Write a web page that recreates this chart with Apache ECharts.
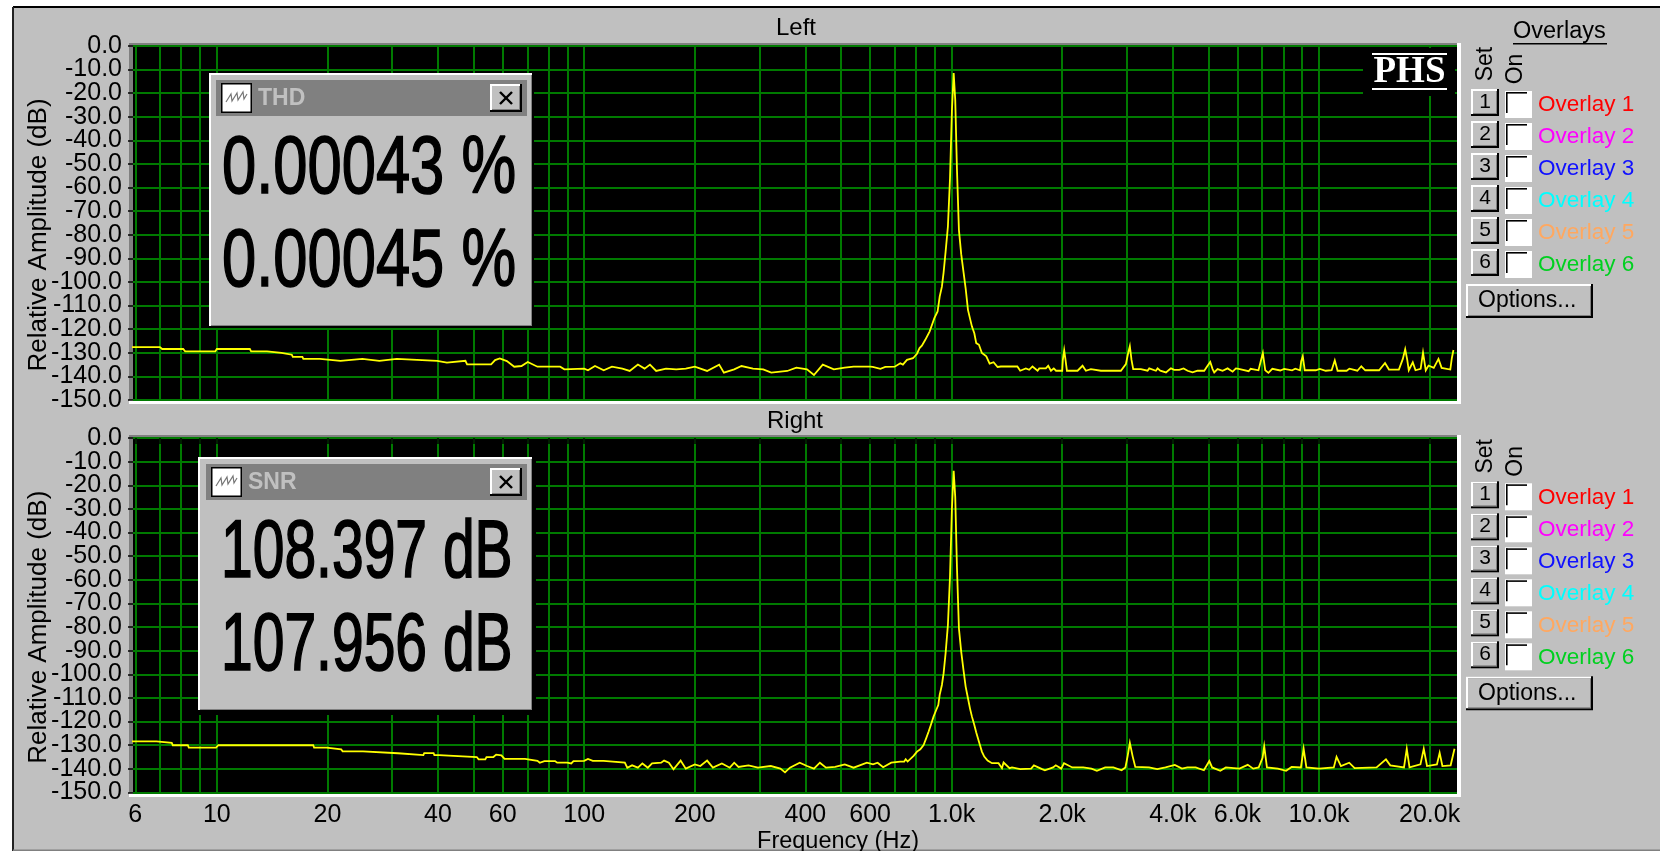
<!DOCTYPE html>
<html><head><meta charset="utf-8">
<script src="https://cdn.jsdelivr.net/npm/echarts@6/dist/echarts.min.js"></script>
<style>html,body{margin:0;padding:0;background:#fff}#c{width:1660px;height:851px}</style>
</head><body><div id="c"></div>
<script>
// ---------- axis values ----------
const dbTicksMin = -150, dbTicksMax = 0, dbStep = 10;
const dbLabelsA = [-150,-130,-110,-90,-70,-50,-30,-10];
const dbLabelsB = [-140,-120,-100,-80,-60,-40,-20,0];
const freqGrid = [6,7,8,9,10,20,30,40,50,60,70,80,90,100,200,300,400,500,600,700,800,900,1000,2000,3000,4000,5000,6000,7000,8000,9000,10000,20000];
const freqLabelled = [6,10,20,40,60,100,200,400,600,1000,2000,4000,6000,10000,20000];
const freqLabelText = ['6','10','20','40','60','100','200','400','600','1.0k','2.0k','4.0k','6.0k','10.0k','20.0k'];
// ---------- Left channel: [Hz, dB] ----------
const leftLow = [[5.8,-127.6],[7.0,-127.6],[7.1,-128.4],[8.1,-128.4],[8.2,-129.4],[9.9,-129.4],[10,-128.4],[12.3,-128.4],[12.4,-129.4],[13.7,-129.4],[13.8,-130],[15,-130],[15.1,-130.8],[16,-130.8],[16.1,-131.7],[17.1,-131.7],[17.2,-132.6],[19.1,-132.6],[19.2,-133.4],[21.7,-133.4],[21.9,-132.6],[24.9,-132.6],[25.1,-133.4],[27.7,-133.4],[27.9,-132.6],[30.9,-132.6],[31.2,-133.4],[39.8,-133.4],[40,-134.2],[42.3,-134.2],[42.5,-133.4],[47.5,-133.4],[48,-134.9],[55.8,-134.9],[57.2,-133.1],[58.9,-132.4],[61.6,-133.5],[64.5,-135.9],[67.5,-135.6],[70.2,-133.9],[74.6,-135.9],[86,-135.9],[88.3,-137],[100,-136.7]];
const leftMid = [[102.4,-137.4],[107,-135.6],[113,-137.4],[119,-135.9],[127,-136.7],[133,-137.7],[140,-135],[146,-136.7],[151,-135],[157,-137.7],[167,-136.7],[178,-137],[189,-136.7],[200,-135.9],[216,-137.7],[233,-135],[240,-138.4],[256,-137],[268,-135.6],[288,-136.7],[307,-137],[323,-138.4],[357,-137.7],[378,-136.3],[404,-137],[422,-139.4],[446,-135],[478,-137],[512,-136.3],[541,-135.9],[600,-135.9],[610,-136],[640,-136.8],[660,-136],[700,-135.9]];
const leftPeak = [[725,-134.4],[737,-135],[756,-133],[785,-132.3],[805,-130.4],[818,-128],[830,-127],[848,-124.5],[871,-121],[884,-118.2],[897,-115.4],[916,-112.5],[928,-106.2],[941,-102],[951,-96],[963,-87.2],[977,-76.6],[990,-56.2],[1002,-27.3],[1013,-11.5],[1023,-22.8],[1034,-52],[1047,-78],[1062,-88.2],[1078,-96],[1092,-102.7],[1108,-111.8],[1122,-115.4],[1136,-118.9],[1153,-121.7],[1167,-125.9],[1187,-126.6],[1209,-130.1],[1243,-131.5],[1269,-134.6],[1301,-134],[1334,-136]];
const leftHighA = [[1362,-135.8],[1434,-135.8],[1450,-136.6],[1510,-135.8],[1537,-137.6],[1592,-136.6],[1626,-137.2],[1660,-135.8],[1714,-137.6],[1732,-136.6],[1805,-136.6],[1832,-135.5],[1864,-137.6],[1897,-136.6],[1924,-137.6],[2000,-137.6],[2008,-133],[2025,-128.9],[2042,-133],[2060,-137.6],[2132,-137.6],[2156,-138.3],[2202,-137.6],[2272,-135.5],[2320,-137.6],[2393,-136.9],[2549,-137.6],[2576,-136.9],[2889,-137.6],[2919,-138.3],[2981,-134.8],[3025,-130],[3056,-127.2],[3088,-133],[3121,-136.9],[3274,-136.9],[3308,-137.6],[3415,-137.6],[3451,-136.6],[3598,-137.6],[3636,-136.6],[3698,-137.6],[3832,-138.3],[3953,-136.6],[4036,-137.2],[4164,-137.2],[4279,-136.6],[4388,-137.6],[4528,-138.3],[4672,-137.6],[4871,-137.6],[4974,-135.5],[5058,-133.9],[5133,-136.9],[5186,-138.3],[5296,-136.9],[5465,-137.6],[5640,-136.6],[5820,-138],[5940,-136.6]];
const leftHighB = [[6046,-136.8],[6434,-137.8],[6514,-136.8],[6844,-137.4],[6930,-134],[7034,-130.1],[7140,-137.4],[7283,-138.5],[7464,-136.8],[7843,-137.5],[8040,-136.8],[8448,-137.4],[8618,-136.7],[8878,-137.4],[8944,-133.6],[9034,-131.5],[9146,-137.4],[9804,-137.4],[10050,-136.8],[10430,-137.6],[10825,-137.4],[11040,-133.2],[11235,-137.6],[11895,-137.6],[12100,-136.7],[12717,-137.6],[13036,-135.7],[13363,-137.4],[14573,-137.4],[15125,-134.3],[15505,-137.1],[16497,-137.1],[16910,-132.6],[17163,-128.5],[17380,-132.9],[17553,-137.4],[18000,-134],[18310,-137.4],[18910,-136.8],[19192,-129.9],[19525,-137.4],[19870,-135.4],[20525,-136.4],[21145,-132.6],[21565,-136.4],[22770,-137.1],[22995,-132.2],[23225,-128.8]];
// ---------- Right channel ----------
const rightLow = [[5.8,-128.4],[6.85,-128.4],[6.89,-129],[7.54,-129],[7.59,-130],[8.34,-130],[8.39,-131],[9.95,-131],[10.1,-130],[18.3,-130],[18.4,-131],[19.9,-131],[20,-131.7],[21.8,-131.7],[22,-132.6],[25,-132.6],[25.2,-133.4],[31.1,-133.4],[31.3,-134.2],[36.5,-134.2],[36.7,-133.3],[38.9,-133.3],[39.1,-134.2],[40.3,-134.2],[40.5,-135],[51,-135],[51.6,-136],[53.8,-136],[54.2,-135],[56.6,-135],[57.6,-134],[59.5,-134.3],[60.7,-135.8],[69,-135.8],[69.4,-136.6],[74.6,-136.6],[75.7,-137.4],[77.9,-136.7],[83.3,-136.7],[84.4,-137.4],[87,-137.4],[87.9,-136.6],[89.8,-137.4],[92.2,-137.7],[93.5,-136.7],[100,-136.6]];
const rightMid = [[102.4,-135.8],[105.5,-136.6],[112.9,-136.6],[114,-137.4],[129,-137.4],[131,-139.5],[135,-138.5],[140,-139.5],[144,-137.7],[149,-139.5],[153,-137.7],[162,-137.4],[165,-136.5],[170,-137.4],[175,-140.2],[183,-136.5],[189,-139.9],[200,-138.1],[207,-138.8],[216,-136.5],[224,-139.5],[237,-137.7],[249,-139.5],[256,-137.4],[263,-139.2],[280,-138.5],[297,-139.5],[322,-138.8],[342,-139.9],[352,-141.5],[363,-139.5],[386,-137.4],[404,-138.8],[422,-139.9],[438,-137.4],[455,-139.5],[482,-139.2],[512,-138.1],[541,-139.5],[588,-137.4],[611,-138.1],[629,-137.4],[651,-139.3],[685,-137.4],[725,-136.9]];
const rightPeak = [[743,-136.9],[750,-135.9],[759,-136.9],[788,-134.5],[805,-132.7],[822,-131.7],[839,-129.9],[853,-127],[866,-124.2],[878,-121.4],[893,-117.9],[908,-115.1],[920,-113],[928,-108.7],[941,-104.5],[951,-99.6],[963,-91.1],[977,-79.2],[990,-58.7],[1002,-29.9],[1013,-13.9],[1023,-24.9],[1034,-54.5],[1047,-80.6],[1062,-90.4],[1078,-98.5],[1092,-105.2],[1108,-110.1],[1122,-114.4],[1136,-117.9],[1153,-121.4],[1167,-124.6],[1187,-128.5],[1209,-132.7],[1227,-134.8],[1253,-136.5],[1288,-137.6],[1342,-137.6],[1371,-139.7],[1385,-137.3],[1438,-139.7]];
const rightHigh = [[1460,-139.4],[1537,-140.1],[1646,-139.9],[1675,-138.5],[1763,-140.1],[1794,-140.6],[1889,-139.4],[1921,-138.5],[1988,-139.9],[2023,-137.6],[2130,-139.4],[2282,-139.4],[2402,-139.9],[2486,-140.8],[2618,-139.4],[2756,-139.4],[2902,-140.6],[2972,-139.4],[3014,-134.6],[3056,-129],[3109,-134.6],[3162,-139.2],[3446,-139.4],[3628,-140.1],[3821,-139.4],[4051,-138.3],[4236,-139.9],[4383,-139.4],[4616,-139.4],[4860,-140.6],[5029,-136.7],[5117,-139.4],[5387,-140.8],[5577,-139.4],[6076,-139.9],[6398,-138.3],[6621,-139.9],[6853,-139.4],[7021,-135.3],[7093,-130.4],[7216,-139.4],[7729,-139.9],[8136,-140.8],[8423,-139.2],[8928,-139.4],[9082,-131.5],[9240,-139.4],[10000,-139.9],[10971,-139.4],[11163,-134.9],[11473,-138.8],[12082,-137.4],[12503,-139.7],[14345,-139.4],[15213,-136],[15631,-138.5],[17034,-139.4],[17333,-131.5],[17634,-139.4],[18884,-138.1],[19280,-131.5],[19680,-138.8],[20940,-138.1],[21300,-133.2],[21670,-138.8],[22820,-138.5],[23380,-131.5]];
const panelTitles = ['Left','Right'];
const overlayNames = ['Overlay 1','Overlay 2','Overlay 3','Overlay 4','Overlay 5','Overlay 6'];
const overlayColors = ['#ff0000','#ff00ff','#1010ff','#00ffff','#ffa860','#00d020'];
const thdValues = ['0.00043 %','0.00045 %'];
const snrValues = ['108.397 dB','107.956 dB'];

const FONT = '"Liberation Sans", Arial, sans-serif';
const GRAY='#c0c0c0', DARK='#808080', GRID='#007a00';
const g = [];
function rect(x,y,w,h,fill,z){g.push({type:'rect',silent:true,z:z,shape:{x,y,width:w,height:h},style:{fill}});}
function line(x1,y1,x2,y2,stroke,w,z){g.push({type:'line',silent:true,z:z,shape:{x1,y1,x2,y2},style:{stroke,lineWidth:w}});}
function text(t,x,y,o){o=o||{};g.push({type:'text',silent:true,z:o.z==null?20:o.z,x,y,rotation:o.rot||0,scaleY:o.sy||1,scaleX:o.sx||1,
  style:{text:t,font:(o.w||'normal')+' '+(o.s||23)+'px '+(o.f||FONT),fill:o.c||'#000',textAlign:o.a||'left',textVerticalAlign:'middle',stroke:o.stroke||null,lineWidth:o.lw||0}});}
function raised(x,y,w,h,z){rect(x,y,w,h,'#000',z);rect(x,y,w-2,h-2,'#fff',z+0.1);rect(x+2,y+2,w-4,h-4,DARK,z+0.2);rect(x+2,y+2,w-5,h-5,GRAY,z+0.3);}

// window background
rect(13,7,1647,844,GRAY,-20);
line(13,7,1660,7,'#000',2,-19); line(13,7,13,851,'#222',2,-19); line(13,850.3,1660,850.3,DARK,1.5,-19);
// plot bevels
[[43,404],[435,797]].forEach(([t,b])=>{rect(129,t,1332,b-t,'#fff',-15);rect(129,t,1328,b-t-4,DARK,-14);});
// PHS logo
rect(1363,48,92,48,'#000',10);
line(1372,54,1447,54,'#fff',2,11);line(1372,89,1447,89,'#fff',2,11);
text('PHS',1409.5,72,{s:37,w:'bold',f:'"Liberation Serif", serif',c:'#fff',a:'center',z:11});

function popup(x,y,w,h,barX,barR,barY,barH,title,vals,fontS,sy,valX,y1,y2){
  raised(x,y,w,h,30);
  rect(barX,barY,barR-barX,barH,DARK,31);
  rect(barX+5,barY+3,31,30,'#000',32);rect(barX+6.5,barY+4.5,28,27,'#fff',33);
  g.push({type:'polyline',silent:true,z:34,shape:{points:[[barX+10,barY+22],[barX+15,barY+14],[barX+16,barY+21],[barX+21,barY+13],[barX+22,barY+20],[barX+27,barY+12],[barX+28,barY+19],[barX+31,barY+14]]},style:{stroke:'#777',fill:null,lineWidth:1.2}});
  text(title,barX+42,barY+19,{s:23,w:'bold',c:GRAY,z:34});
  const cx=490,cy=barY+4,cw=32,ch=28;
  raised(cx,cy,cw,ch,32);
  line(cx+10,cy+8,cx+22,cy+20,'#000',2.4,34);line(cx+22,cy+8,cx+10,cy+20,'#000',2.4,34);
  text(vals[0],valX,y1,{s:fontS,sy,z:34,stroke:'#000',lw:1.2});
  text(vals[1],valX,y2,{s:fontS,sy,z:34,stroke:'#000',lw:1.2});
}
rect(198,457,338,258,'#000',9); // gap round the second box
popup(209,73,325,255,216,527,80,36,'THD',thdValues,61.5,1.33,222,170,263);
popup(198,457,336,255,206,527,464,36,'SNR',snrValues,57,1.43,221,555,648);

// overlay controls
[0,392.3].forEach((d,i)=>{
  if(i===0){text('Overlays',1513,32,{s:23.5});rect(1513,43,94,1.6,'#000',20);}
  text('Set',1486,64+d,{s:23,rot:Math.PI/2,a:'center'});
  text('On',1516,69+d,{s:23,rot:Math.PI/2,a:'center'});
  overlayNames.forEach((n,k)=>{
    const y=89+d+k*32;
    raised(1471,y,28,27,10);
    text(String(k+1),1485,y+13,{s:21,a:'center'});
    rect(1505,y+2,27,27,'#fff',10);rect(1506,y+3,1.6,21,'#000',11);rect(1506,y+3,21,1.6,'#000',11);
    text(n,1538,y+16,{c:overlayColors[k],s:22.5});
  });
  raised(1466,284+d,127,34,10);
  text('Options...',1478,301+d,{s:23});
});

const logF = f=>Math.log10(f);
const toSeries = (arrs,idx)=>({type:'line',xAxisIndex:idx,yAxisIndex:idx,showSymbol:false,symbol:'none',animation:false,silent:true,
  lineStyle:{color:'#ffff00',width:1.8,join:'miter'},data:[].concat(...arrs).map(p=>[logF(p[0]),p[1]])});
const mkX=(idx,bottom)=>({type:'value',gridIndex:idx,min:0.7719,max:4.3756,scale:true,
  name:bottom?'Frequency (Hz)':'',nameLocation:'center',nameMoveOverlap:false,nameGap:37,nameTextStyle:{fontFamily:FONT,fontSize:23.5,color:'#000',padding:[0,0,0,86]},
  axisLine:{show:false},
  axisTick:{show:bottom,length:6,inside:false,lineStyle:{color:'#000',width:1.5},customValues:freqGrid.map(logF)},
  axisLabel:{show:bottom,fontFamily:FONT,fontSize:25,color:'#000',margin:10,hideOverlap:false,showMinLabel:true,showMaxLabel:true,
    customValues:freqLabelled.map(logF),
    formatter:v=>{const i=freqLabelled.findIndex(f=>Math.abs(logF(f)-v)<1e-6);return i<0?'':freqLabelText[i];}},
  splitLine:{show:true,lineStyle:{color:GRID,width:2}},minorTick:{show:false}});
const labelStyle=(vals)=>({color:'#000',fontFamily:FONT,fontSize:25,margin:11,padding:[3,0,0,0],hideOverlap:false,customValues:vals,formatter:v=>v.toFixed(1)});
const mkY=(idx)=>({type:'value',gridIndex:idx,position:'left',min:dbTicksMin,max:dbTicksMax,interval:dbStep,
  name:'Relative Amplitude (dB)',nameLocation:'center',nameMoveOverlap:false,nameGap:81,nameRotate:90,nameTextStyle:{fontFamily:FONT,fontSize:26,color:'#000',padding:[0,24,0,0]},
  axisLine:{show:false},axisTick:{show:true,length:5,lineStyle:{color:'#000',width:1.5}},
  axisLabel:labelStyle(dbLabelsA),
  splitLine:{show:true,lineStyle:{color:GRID,width:2}}});
// companion axis over the same grid: carries the other half of the tick labels
const mkY2=(idx)=>({type:'value',gridIndex:idx,position:'left',min:dbTicksMin,max:dbTicksMax,interval:dbStep,
  axisLine:{show:false},axisTick:{show:false},splitLine:{show:false},axisLabel:labelStyle(dbLabelsB)});

const chart=echarts.init(document.getElementById('c'),null,{renderer:'canvas'});
chart.setOption({
  animation:false,backgroundColor:'#fff',
  title:[
    {text:panelTitles[0],left:791,top:11,textAlign:'center',textStyle:{fontFamily:FONT,fontSize:24,fontWeight:'normal',color:'#000'}},
    {text:panelTitles[1],left:790,top:404,textAlign:'center',textStyle:{fontFamily:FONT,fontSize:24,fontWeight:'normal',color:'#000'}}],
  grid:[
    {left:133,top:46,width:1324,height:354,show:true,backgroundColor:'#000',borderWidth:0,outerBoundsMode:'none'},
    {left:133,top:438,width:1324,height:354.5,show:true,backgroundColor:'#000',borderWidth:0,outerBoundsMode:'none'}],
  xAxis:[mkX(0,false),mkX(1,true)],
  yAxis:[mkY(0),mkY(1),mkY2(0),mkY2(1)],
  series:[toSeries([leftLow,leftMid,leftPeak,leftHighA,leftHighB],0),toSeries([rightLow,rightMid,rightPeak,rightHigh],1)],
  graphic:{elements:g}
});
</script></body></html>
